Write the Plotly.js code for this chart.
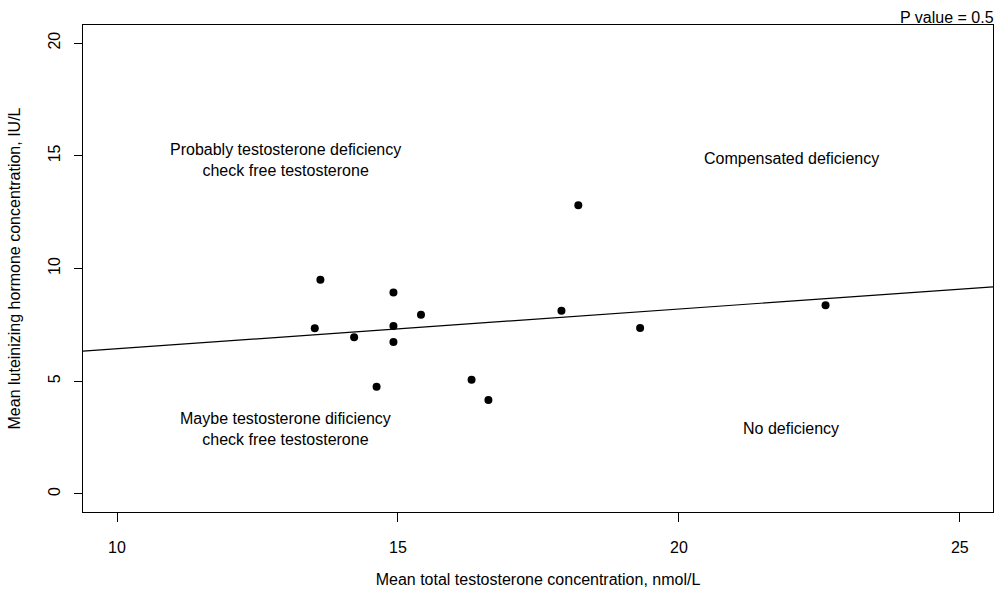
<!DOCTYPE html>
<html>
<head>
<meta charset="utf-8">
<script src="https://cdn.plot.ly/plotly-3.0.1.min.js"></script>
<style>html,body{margin:0;padding:0;background:#fff;}#chart{width:995px;height:589px;}</style>
</head>
<body>
<div id="chart"></div>
<script>
// Data
const testosterone = [13.62, 14.92, 15.41, 13.52, 14.92, 14.22, 14.92, 14.62, 16.31, 16.61, 18.21, 17.91, 19.31, 22.61];
const lh = [9.50, 8.94, 7.95, 7.35, 7.45, 6.95, 6.74, 4.75, 5.07, 4.17, 12.80, 8.13, 7.36, 8.37];
const xTicks = [10, 15, 20, 25];
const yTicks = [0, 5, 10, 15, 20];
const regionLabels = [
  "Probably testosterone deficiency<br>check free testosterone",
  "Compensated deficiency",
  "Maybe testosterone dificiency<br>check free testosterone",
  "No deficiency"
];
const regionX = [13, 22, 13, 22];
const regionY = [14.8, 14.9, 2.9, 2.9];
const pLabel = "P value = 0.5";

const xRange = [9.395, 25.59];
const yRange = [-0.8, 20.8];

// Ordinary least squares fit through the points
const n = testosterone.length;
const mx = testosterone.reduce((a, b) => a + b, 0) / n;
const my = lh.reduce((a, b) => a + b, 0) / n;
let sxy = 0, sxx = 0;
for (let i = 0; i < n; i++) {
  sxy += (testosterone[i] - mx) * (lh[i] - my);
  sxx += (testosterone[i] - mx) ** 2;
}
const slope = sxy / sxx;
const intercept = my - slope * mx;
const fitX = xRange.slice();
const fitY = fitX.map(x => intercept + slope * x);

const font = {family: "Liberation Sans, Arial, sans-serif", size: 16, color: "#000"};

const traces = [
  {x: testosterone, y: lh, type: "scatter", mode: "markers",
   marker: {color: "#000", size: 8, symbol: "circle"}, hoverinfo: "x+y"},
  {x: fitX, y: fitY, type: "scatter", mode: "lines",
   line: {color: "#000", width: 1.2}, hoverinfo: "skip"}
];

const annotations = regionLabels.map((t, i) => ({
  x: regionX[i], y: regionY[i], xref: "x", yref: "y", text: t,
  showarrow: false, font: font, align: "center", xanchor: "center", yanchor: "middle"
}));
annotations.push({
  x: 1, y: 1, xref: "paper", yref: "paper", text: pLabel, showarrow: false,
  xanchor: "right", yanchor: "bottom", yshift: -3, xshift: 3, font: font
});

const layout = {
  width: 995, height: 589,
  margin: {l: 83, r: 2, t: 25, b: 77},
  paper_bgcolor: "#fff", plot_bgcolor: "#fff",
  showlegend: false,
  font: font,
  xaxis: {
    range: xRange, tickvals: xTicks, ticktext: xTicks.map(String),
    showgrid: false, zeroline: false, showline: true, mirror: true,
    linecolor: "#000", linewidth: 1,
    ticks: "outside", ticklen: 9, tickcolor: "#000", tickwidth: 1,
    ticklabelstandoff: 12,
    tickfont: font,
    title: {text: "Mean total testosterone concentration, nmol/L", font: font, standoff: 18}
  },
  yaxis: {
    range: yRange, tickvals: yTicks, ticktext: yTicks.map(String),
    showgrid: false, zeroline: false, showline: true, mirror: true,
    linecolor: "#000", linewidth: 1,
    ticks: "outside", ticklen: 8, tickcolor: "#000", tickwidth: 1,
    tickangle: -90, ticklabelstandoff: 8,
    tickfont: font,
    title: {text: "Mean luteinizing hormone concentration, IU/L", font: font, standoff: 20}
  },
  annotations: annotations
};

Plotly.newPlot("chart", traces, layout, {displayModeBar: false, staticPlot: true});
</script>
</body>
</html>
